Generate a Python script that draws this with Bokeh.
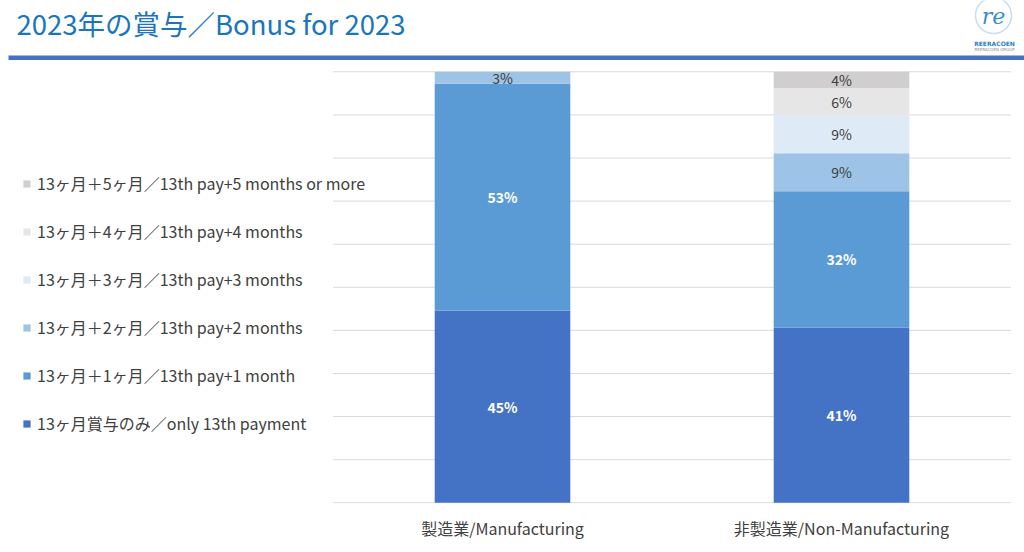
from bokeh.plotting import figure
from bokeh.models import (ColumnDataSource, Legend, LegendItem, Label,
                          BoxAnnotation, FixedTicker, Range1d)
from bokeh.core.properties import value
from bokeh.embed import file_html
from bokeh.resources import INLINE

# ---- data ----
categories = ["製造業/Manufacturing", "非製造業/Non-Manufacturing"]
only_13th = [44.6, 40.7]
plus_1 = [52.6, 31.6]
plus_2 = [2.8, 8.8]
plus_3 = [0.0, 8.8]
plus_4 = [0.0, 6.3]
plus_5 = [0.0, 3.8]
series_keys = ["only_13th", "plus_1", "plus_2", "plus_3", "plus_4", "plus_5"]
series_labels = [
    "13ヶ月賞与のみ／only 13th payment",
    "13ヶ月＋1ヶ月／13th pay+1 month",
    "13ヶ月＋2ヶ月／13th pay+2 months",
    "13ヶ月＋3ヶ月／13th pay+3 months",
    "13ヶ月＋4ヶ月／13th pay+4 months",
    "13ヶ月＋5ヶ月／13th pay+5 months or more",
]
y_ticks = [0, 10, 20, 30, 40, 50, 60, 70, 80, 90, 100]
title_text = "2023年の賞与／Bonus for 2023"

# ---- style / layout ----
colors = ["#4472C4", "#5B9BD5", "#9DC3E6", "#DEEBF7", "#E7E6E6", "#D0CECE"]
dark_series = {"only_13th", "plus_1"}
FONT = "Noto Sans CJK JP"
W, H = 1024, 552
FRAME_BOTTOM = 503          # canvas px of frame bottom (axis panel below)
Y0_PX, Y100_PX = 502.3, 71.3  # canvas px of 0% and 100%
X_LEFT_PX, X_UNIT_PX = 332.5, 339.0  # px of category axis start and width per category

py = (Y0_PX - Y100_PX) / 100.0
y_start = -(FRAME_BOTTOM - Y0_PX) / py
y_end = 100 + Y100_PX / py
x_start = -X_LEFT_PX / X_UNIT_PX
x_end = (W - X_LEFT_PX) / X_UNIT_PX

series = dict(zip(series_keys, [only_13th, plus_1, plus_2, plus_3, plus_4, plus_5]))
xpos = [i + 0.5 for i in range(len(categories))]
src = ColumnDataSource(dict(x=xpos, **series))

p = figure(width=W, height=H, x_range=Range1d(x_start, x_end),
           y_range=Range1d(y_start, y_end), output_backend="svg", toolbar_location=None,
           y_axis_location=None, min_border_left=0, min_border_right=0,
           min_border_top=0, min_border_bottom=H - FRAME_BOTTOM)
p.outline_line_color = None
p.grid.visible = False

xa = p.xaxis[0]
xa.ticker = FixedTicker(ticks=xpos)
xa.major_label_overrides = {x: c for x, c in zip(xpos, categories)}
xa.axis_line_color = None
xa.major_tick_line_color = None
xa.major_tick_out = 0
xa.minor_tick_line_color = None
xa.major_label_text_font = FONT
xa.major_label_text_font_size = "16px"
xa.major_label_text_color = "#404040"
xa.major_label_standoff = 12

# horizontal gridlines across the category area
p.segment(x0=0, x1=len(categories), y0="y", y1="y",
          source=ColumnDataSource(dict(y=y_ticks)), line_color="#D9D9D9", line_width=1)

renderers = p.vbar_stack(series_keys, x="x", width=0.4, color=colors,
                         line_color=None, source=src)

# segment labels
lab_dark = dict(x=[], y=[], t=[])
lab_light = dict(x=[], y=[], t=[])
for i in range(len(categories)):
    base = 0.0
    for k in series_keys:
        v = series[k][i]
        if v > 0:
            d = lab_dark if k in dark_series else lab_light
            d["x"].append(xpos[i])
            d["y"].append(base + v / 2)
            d["t"].append(f"{round(v)}%")
        base += v
p.text(x="x", y="y", text="t", source=ColumnDataSource(lab_dark), text_align="center",
       text_baseline="middle", text_color="white", text_font_style="bold",
       text_font=value(FONT), text_font_size="14px")
p.text(x="x", y="y", text="t", source=ColumnDataSource(lab_light), text_align="center",
       text_baseline="middle", text_color="#404040",
       text_font=value(FONT), text_font_size="14px")

# legend (top = +5 months); location is the legend's bottom-left corner
items = [LegendItem(label=series_labels[i], renderers=[renderers[i]])
         for i in reversed(range(len(series_keys)))]
legend = Legend(items=items, location=(22, FRAME_BOTTOM - 435), padding=0, margin=0,
                border_line_color=None, background_fill_alpha=0,
                glyph_width=9, glyph_height=9, label_standoff=6,
                label_height=20, spacing=24,
                label_text_font=FONT, label_text_font_size="16px",
                label_text_color="#404040")
p.add_layout(legend, "center")

def scr(x, y_canvas):
    return dict(x=x, y=FRAME_BOTTOM - y_canvas, x_units="screen", y_units="screen")

# title and rule
p.add_layout(Label(**scr(16, 22), text=title_text, text_font=FONT,
                   text_font_size="27.5px", text_color="#1B75BC", text_baseline="middle"))
p.add_layout(BoxAnnotation(left=8, right=W, top=FRAME_BOTTOM - 55, bottom=FRAME_BOTTOM - 59.5,
                           left_units="screen", right_units="screen",
                           top_units="screen", bottom_units="screen",
                           fill_color="#4770BE", fill_alpha=1, line_color=None))

# logo
p.add_layout(BoxAnnotation(left=975, right=1011, top=FRAME_BOTTOM + 3, bottom=FRAME_BOTTOM - 33,
                           left_units="screen", right_units="screen",
                           top_units="screen", bottom_units="screen",
                           border_radius=18, fill_alpha=0, line_color="#3A8FD0",
                           line_width=1.5))
p.add_layout(Label(**scr(993, 16), text="re", text_font="DejaVu Serif",
                   text_font_style="italic", text_font_size="22px", text_color="#3A8FD0",
                   text_align="center", text_baseline="middle"))
p.add_layout(Label(**scr(994, 43), text="REERACOEN", text_font="DejaVu Sans",
                   text_font_style="bold", text_font_size="6px", text_color="#2F7FC0",
                   text_align="center", text_baseline="middle"))
p.add_layout(Label(**scr(994, 49), text="REERACOEN GROUP", text_font="DejaVu Sans",
                   text_font_size="4px", text_color="#888888",
                   text_align="center", text_baseline="middle"))

open("out.html", "w").write(file_html(p, INLINE))
